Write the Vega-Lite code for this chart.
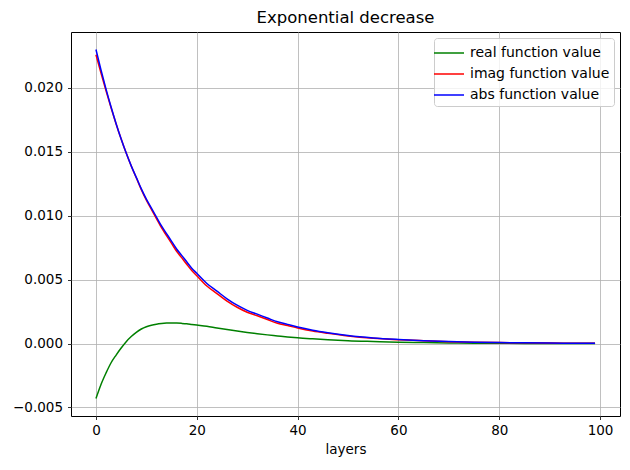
{
  "$schema": "https://vega.github.io/schema/vega-lite/v6.json",
  "width": 549,
  "height": 384,
  "autosize": {"type": "none"},
  "padding": {"left": 71, "top": 32, "right": 10, "bottom": 54},
  "title": {"text": "Exponential decrease", "font": "DejaVu Sans", "fontSize": 16.5, "fontWeight": "normal", "color": "#000", "offset": 6, "anchor": "middle"},
  "config": {
    "view": {"stroke": "#000", "strokeWidth": 1},
    "axis": {"domain": false, "grid": true, "gridColor": "#b0b0b0", "gridWidth": 0.8, "tickColor": "#000", "tickSize": 3.5, "tickWidth": 0.8, "labelFont": "DejaVu Sans", "labelFontSize": 13.5, "labelColor": "#000", "titleFont": "DejaVu Sans", "titleFontSize": 13.5, "titleFontWeight": "normal", "titleColor": "#000"}
  },
  "data": {"values": [
    {"layers": 0, "real": -0.0043, "imag": 0.02259, "abs": 0.0230},
    {"layers": 1, "real": -0.0032, "imag": 0.02116, "abs": 0.0214},
    {"layers": 2, "real": -0.0023, "imag": 0.01977, "abs": 0.0199},
    {"layers": 3, "real": -0.0015, "imag": 0.01844, "abs": 0.0185},
    {"layers": 4, "real": -0.0009, "imag": 0.01718, "abs": 0.0172},
    {"layers": 5, "real": -0.00035, "imag": 0.0160, "abs": 0.0160},
    {"layers": 6, "real": 0.00015, "imag": 0.0149, "abs": 0.0149},
    {"layers": 7, "real": 0.00055, "imag": 0.01389, "abs": 0.0139},
    {"layers": 8, "real": 0.00088, "imag": 0.01297, "abs": 0.0130},
    {"layers": 9, "real": 0.00114, "imag": 0.01204, "abs": 0.0121},
    {"layers": 10, "real": 0.00132, "imag": 0.01122, "abs": 0.0113},
    {"layers": 11, "real": 0.00144, "imag": 0.0105, "abs": 0.0106},
    {"layers": 12, "real": 0.00152, "imag": 0.00978, "abs": 0.0099},
    {"layers": 13, "real": 0.00157, "imag": 0.00906, "abs": 0.0092},
    {"layers": 14, "real": 0.0016, "imag": 0.00845, "abs": 0.0086},
    {"layers": 15, "real": 0.00161, "imag": 0.00784, "abs": 0.0080},
    {"layers": 16, "real": 0.0016, "imag": 0.00722, "abs": 0.0074},
    {"layers": 17, "real": 0.00158, "imag": 0.00672, "abs": 0.0069},
    {"layers": 18, "real": 0.00155, "imag": 0.00621, "abs": 0.0064},
    {"layers": 19, "real": 0.0015, "imag": 0.00571, "abs": 0.0059},
    {"layers": 20, "real": 0.00145, "imag": 0.00531, "abs": 0.0055},
    {"layers": 22, "real": 0.00135, "imag": 0.0045, "abs": 0.0047},
    {"layers": 24, "real": 0.00122, "imag": 0.00391, "abs": 0.0041},
    {"layers": 26, "real": 0.0011, "imag": 0.00332, "abs": 0.0035},
    {"layers": 28, "real": 0.00098, "imag": 0.00284, "abs": 0.0030},
    {"layers": 30, "real": 0.00087, "imag": 0.00245, "abs": 0.0026},
    {"layers": 32, "real": 0.00077, "imag": 0.00217, "abs": 0.0023},
    {"layers": 34, "real": 0.00068, "imag": 0.00188, "abs": 0.0020},
    {"layers": 36, "real": 0.0006, "imag": 0.00159, "abs": 0.0017},
    {"layers": 38, "real": 0.00052, "imag": 0.00141, "abs": 0.0015},
    {"layers": 40, "real": 0.00045, "imag": 0.00122, "abs": 0.0013},
    {"layers": 43, "real": 0.00037, "imag": 0.00098, "abs": 0.00105},
    {"layers": 46, "real": 0.0003, "imag": 0.0008, "abs": 0.00085},
    {"layers": 50, "real": 0.00022, "imag": 0.00059, "abs": 0.00063},
    {"layers": 55, "real": 0.00016, "imag": 0.00041, "abs": 0.00044},
    {"layers": 60, "real": 0.00011, "imag": 0.0003, "abs": 0.00032},
    {"layers": 65, "real": 0.00008, "imag": 0.00022, "abs": 0.00023},
    {"layers": 70, "real": 0.00005, "imag": 0.00015, "abs": 0.00016},
    {"layers": 75, "real": 0.00003, "imag": 0.000106, "abs": 0.00011},
    {"layers": 80, "real": 0.00002, "imag": 0.000077, "abs": 0.00008},
    {"layers": 85, "real": 0.00001, "imag": 0.000059, "abs": 0.00006},
    {"layers": 90, "real": 0.00001, "imag": 0.000039, "abs": 0.00004},
    {"layers": 95, "real": 0.0, "imag": 0.00003, "abs": 0.00003},
    {"layers": 99, "real": 0.0, "imag": 0.00002, "abs": 0.00002}
  ]},
  "transform": [{"fold": ["real", "imag", "abs"], "as": ["series", "value"]}],
  "mark": {"type": "line", "strokeWidth": 1.5, "interpolate": "monotone"},
  "encoding": {
    "x": {"field": "layers", "type": "quantitative",
      "scale": {"domain": [-4.95, 103.95], "nice": false, "zero": false},
      "axis": {"values": [0, 20, 40, 60, 80, 100], "title": "layers", "labelPadding": 4, "titlePadding": 5}},
    "y": {"field": "value", "type": "quantitative",
      "scale": {"domain": [-0.005665, 0.02437], "nice": false, "zero": false},
      "axis": {"values": [-0.005, 0, 0.005, 0.01, 0.015, 0.02], "format": ".3f", "title": null, "labelPadding": 5}},
    "color": {"field": "series", "type": "nominal",
      "scale": {"domain": ["real", "imag", "abs"], "range": ["#008000", "#ff0000", "#0000ff"]},
      "legend": {"title": null, "orient": "top-right", "offset": 6, "padding": 4,
        "strokeColor": "#cccccc", "fillColor": "rgba(255,255,255,0.8)", "cornerRadius": 3,
        "symbolType": "M-1.5,0H1.5", "symbolSize": 400, "symbolStrokeWidth": 1.5,
        "labelFont": "DejaVu Sans", "labelFontSize": 14, "labelColor": "#000", "labelOffset": 10,
        "rowPadding": 3, "labelLimit": 300,
        "labelExpr": "datum.label + ' function value'"}},
    "order": {"field": "layers", "type": "quantitative"}
  }
}
